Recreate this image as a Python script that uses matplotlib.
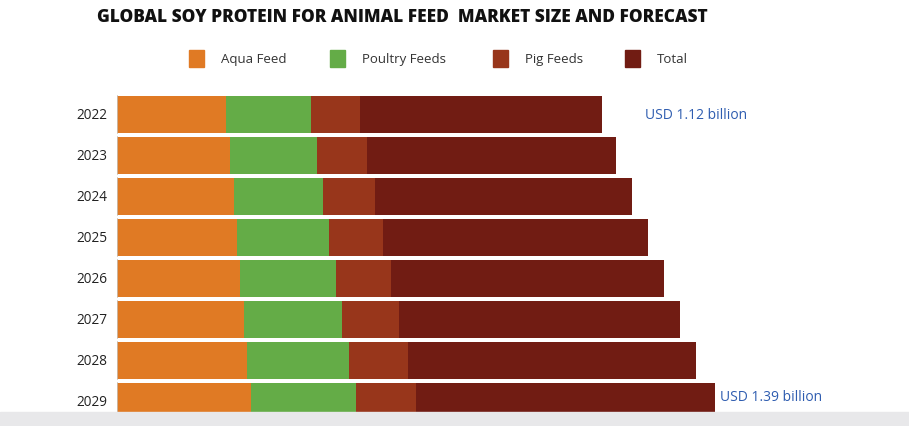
import numpy as np
import matplotlib.pyplot as plt
from matplotlib.patches import Rectangle

years = ['2022', '2023', '2024', '2025', '2026', '2027', '2028', '2029']
aqua = [0.253, 0.262, 0.271, 0.278, 0.285, 0.295, 0.302, 0.311]
poultry = [0.197, 0.202, 0.206, 0.213, 0.223, 0.227, 0.237, 0.244]
pig = [0.114, 0.116, 0.121, 0.125, 0.128, 0.132, 0.135, 0.139]
total = [0.561, 0.578, 0.596, 0.615, 0.633, 0.652, 0.670, 0.694]

series = ['Aqua Feed', 'Poultry Feeds', 'Pig Feeds', 'Total']
colors = ['#e07a24', '#64ac47', '#98361b', '#711c13']
notes = {0: 'USD 1.12 billion', 7: 'USD 1.39 billion'}

W, H = 909, 427
fig = plt.figure(figsize=(W / 100, H / 100), dpi=100)
fig.patch.set_facecolor('white')

# axes placed in pixel terms: x 117..909, y 91..413
ax = fig.add_axes([117 / W, (H - 413) / H, (W - 117) / W, (413 - 91) / H])
ax.set_xlim(0, 792 * 0.00232)
ax.set_ylim((413 - 115.5) / 41, (91 - 115.5) / 41)
ax.axis('off')

y = np.arange(len(years))
left = np.zeros(len(years))
for vals, c in zip([aqua, poultry, pig, total], colors):
    ax.barh(y, vals, left=left, height=0.88, color=c, edgecolor='none')
    left = left + np.array(vals)

for yi in y:
    ax.plot([0, 0], [yi - 0.44, yi + 0.44], color='#c9bfb4', lw=1.2)

for i, yr in enumerate(years):
    ax.text(-0.022, i, yr, ha='right', va='center', fontsize=9.8,
            family='Open Sans', color='#222222', clip_on=False)

offsets = {0: 0.10, 7: 0.012}
shifts = {0: 0.0, 7: -0.12}
for i, txt in notes.items():
    ax.text(left[i] + offsets[i], i + shifts[i], txt, ha='left', va='center',
            fontsize=10, family='Open Sans', color='#2f5db0', clip_on=False)

fig.text(97 / W, 1 - 17 / H, 'GLOBAL SOY PROTEIN FOR ANIMAL FEED  MARKET SIZE AND FORECAST',
         ha='left', va='center', fontsize=12.4, fontweight='heavy',
         family='Open Sans', color='#111111')

box_x = [189, 330, 493, 625]
for bx, name, c in zip(box_x, series, colors):
    fig.patches.append(Rectangle((bx / W, 1 - 68 / H), 15 / W, 17 / H,
                                 transform=fig.transFigure, color=c))
    fig.text((bx + 32) / W, 1 - 59.5 / H, name, ha='left', va='center',
             fontsize=9.5, family='Open Sans', color='#333333')

fig.patches.append(Rectangle((0, 0), 1, 14 / H, transform=fig.transFigure,
                             color='#e8e8ea', zorder=5))

fig.savefig('out.png', dpi=100)
